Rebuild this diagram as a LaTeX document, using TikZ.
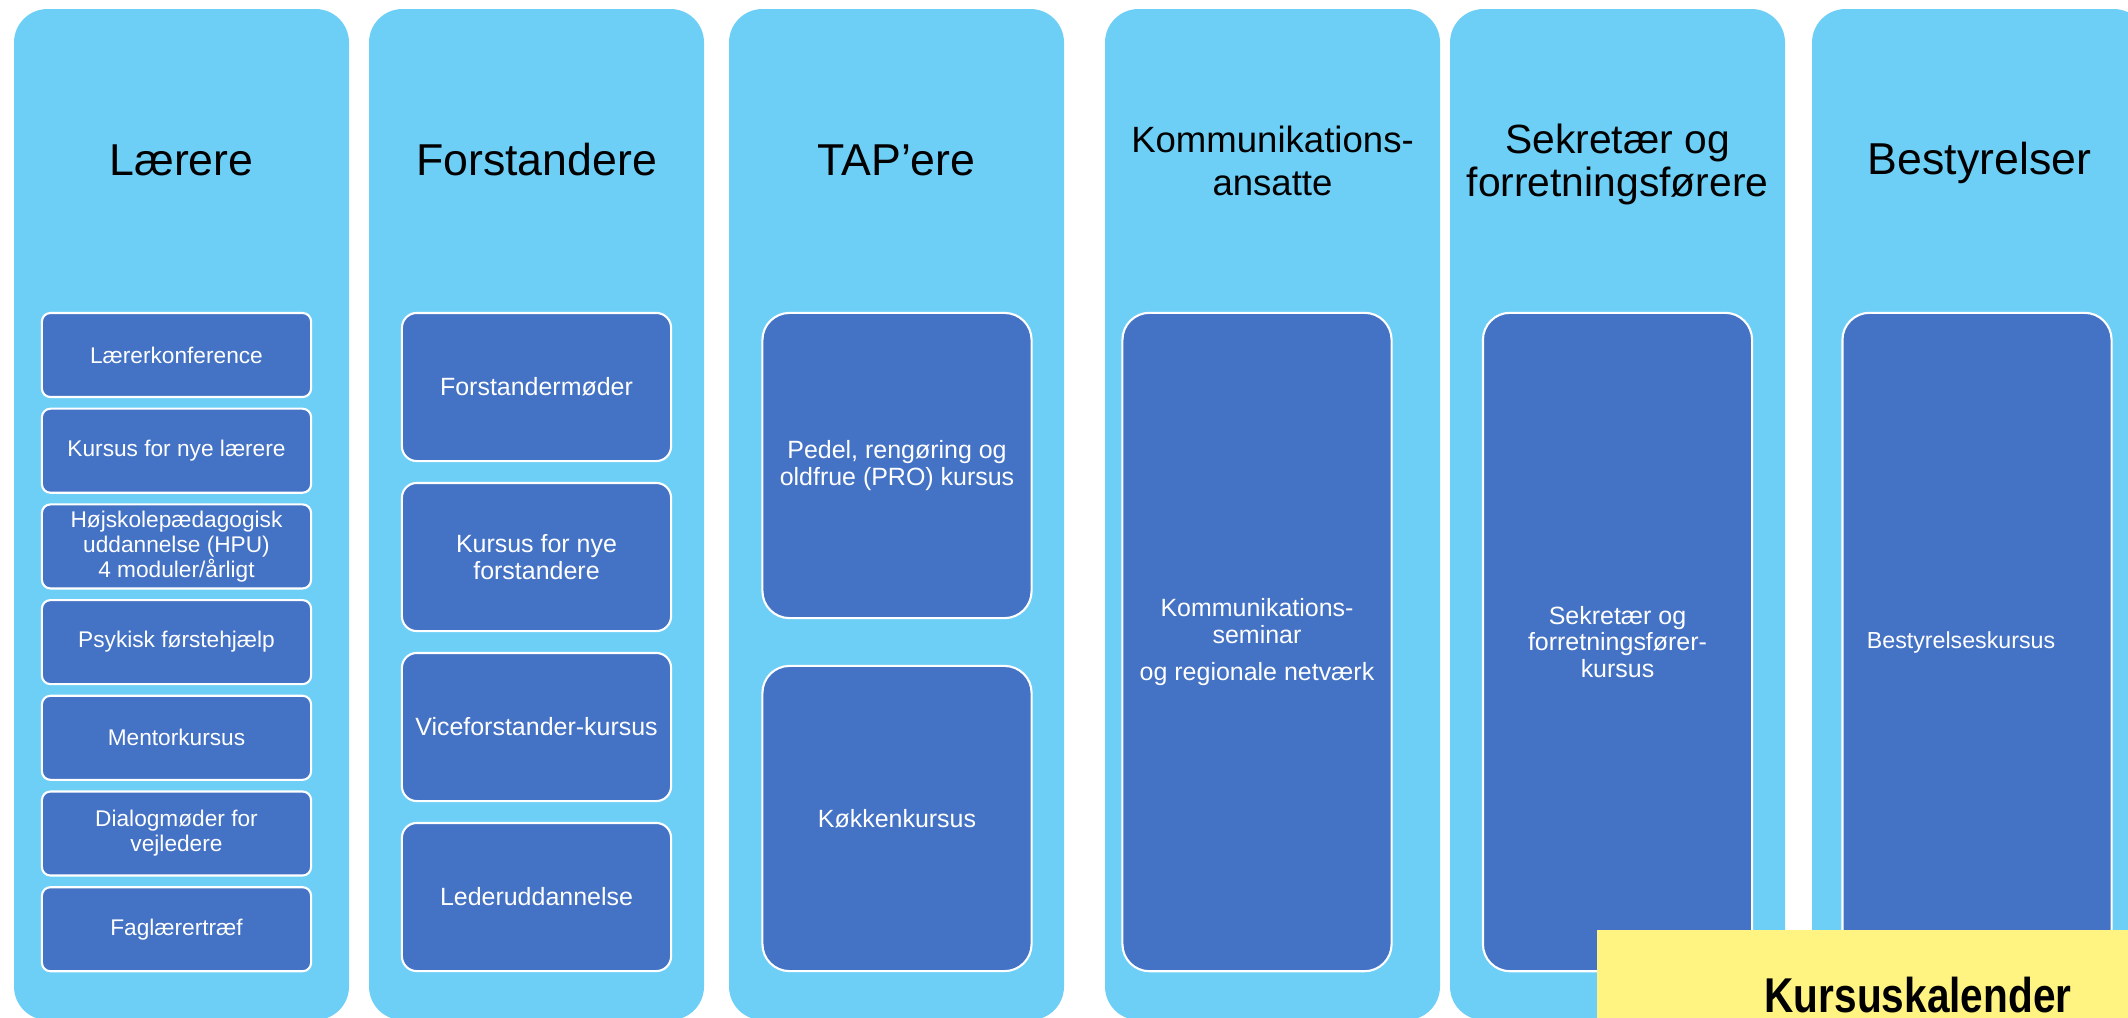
\documentclass[tikz,border=0pt]{standalone}
\usepackage{fontspec}
\setmainfont{Liberation Sans}
\usepackage{xcolor}
\usepackage{tikz}
\usetikzlibrary{positioning}

\definecolor{lysblaa}{RGB}{109,207,246}
\definecolor{moerkblaa}{RGB}{68,114,196}
\definecolor{gul}{RGB}{255,243,130}

\begin{document}
\begin{tikzpicture}[x=0.01cm,y=-0.01cm,
  kolonne/.style={fill=lysblaa,rounded corners=0.335cm},
  overskrift/.style={align=center,text=black,font=\fontsize{12.7}{12.2}\selectfont},
  kursus/.style={draw=white,line width=0.6pt,fill=moerkblaa,text=white,align=center,inner sep=0pt},
  lille/.style={kursus,minimum width=2.69cm,minimum height=0.84cm,rounded corners=0.085cm,font=\fontsize{6.45}{7.1}\selectfont},
  stor/.style={kursus,minimum width=2.69cm,font=\fontsize{7.1}{7.6}\selectfont}]
  \useasboundingbox (0,0) rectangle (2128,1017);
  \clip (0,0) rectangle (2128,1017);
  % kolonner
  \foreach \x in {14,369,729,1105,1450,1812}
  \fill[kolonne] (\x,9) rectangle ++(335,1011);
  % overskrifter
  \node[overskrift] (laerere) at (181.5,160) {Lærere};
  \node[overskrift] (forstandere) at (536.5,160) {Forstandere};
  \node[overskrift] (tap) at (896.5,160) {TAP’ere};
  \node[overskrift,font=\fontsize{10.4}{12.2}\selectfont] (komm) at (1272.5,161) {Kommunikations-\\ansatte};
  \node[overskrift,font=\fontsize{11.6}{12.2}\selectfont] (sekr) at (1617.5,164) {Sekretær og\\forretningsførere};
  \node[overskrift] (best) at (1979.5,163) {Bestyrelser};
  % Lærere
  \foreach \tekst [count=\i from 0] in {Lærerkonference,Kursus for nye lærere,
    {Højskolepædagogisk\\uddannelse (HPU)\\4 moduler/årligt},Psykisk førstehjælp,
    Mentorkursus,{Dialogmøder for\\vejledere},Faglærertræf}
  \node[lille] (l\i) at (176.5,{355+95.7*\i}) {\tekst};
  % Forstandere
  \foreach \tekst [count=\i from 0] in {Forstandermøder,{Kursus for nye\\forstandere},
    Viceforstander-kursus,Lederuddannelse}
  \node[stor,minimum height=1.48cm,rounded corners=0.148cm] (f\i) at (536.5,{387+170*\i}) {\tekst};
  % TAP'ere
  \node[stor,minimum height=3.05cm,rounded corners=0.27cm] (pro) at (897,465.5) {Pedel, rengøring og\\oldfrue (PRO) kursus};
  \node[stor,minimum height=3.05cm,rounded corners=0.27cm] (koekken) at (897,818.5) {Køkkenkursus};
  % en boks pr. kolonne
  \node[stor,minimum height=6.58cm,rounded corners=0.27cm] (seminar) at (1257,642)
    {Kommunikations-\\seminar\\[2.8pt]og regionale netværk};
  \node[stor,minimum height=6.58cm,rounded corners=0.27cm] (sekrkursus) at (1617.5,642)
    {Sekretær og\\forretningsfører-\\kursus};
  \node[stor,minimum height=6.58cm,rounded corners=0.27cm] (bestkursus) at (1977,642)
    {\hspace*{-0.32cm}\fontsize{6.6}{7.6}\selectfont Bestyrelseskursus};
  % gul label
  \fill[gul] (1597,930) rectangle (2140,1030);
  \node[anchor=base,inner sep=0pt,font=\bfseries\fontsize{13.9}{14}\selectfont] (kalender) at (1918,1012)
    {\scalebox{0.83}[1]{Kursuskalender}};
\end{tikzpicture}
\end{document}
